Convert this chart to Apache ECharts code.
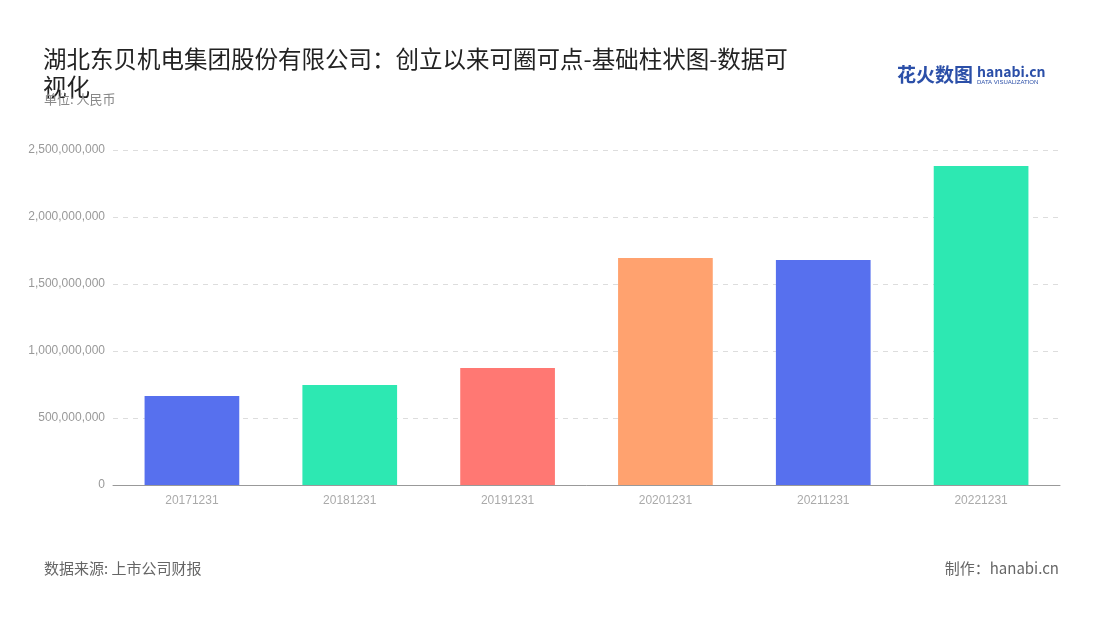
<!DOCTYPE html>
<html><head><meta charset="utf-8">
<script src="https://cdn.jsdelivr.net/npm/echarts@6/dist/echarts.min.js"></script>
<style>html,body{margin:0;padding:0;background:#fff}#c{width:1100px;height:620px}</style>
</head><body><div id="c"></div>
<script>
const categories = ['20171231','20181231','20191231','20201231','20211231','20221231'];
const values = [664000000, 746000000, 873000000, 1694000000, 1679000000, 2381000000];
const colors = ['#5770EE','#2DE8B2','#FF7873','#FFA26F','#5770EE','#2DE8B2'];
const yTicks = [0, 500000000, 1000000000, 1500000000, 2000000000, 2500000000];
const ff = '"Noto Sans CJK SC","Noto Sans",sans-serif';
const chart = echarts.init(document.getElementById('c'));
chart.setOption({
  animation:false,
  title:[
    {text:'湖北东贝机电集团股份有限公司：创立以来可圈可点-基础柱状图-数据可\n视化',left:38,top:40,textStyle:{fontFamily:ff,fontSize:23.5,fontWeight:'normal',color:'#222',lineHeight:28}},
    {text:'单位: 人民币',left:39,top:88,textStyle:{fontFamily:ff,fontSize:13,fontWeight:'normal',color:'#888'}},
    {text:'数据来源: 上市公司财报',left:39,top:556,textStyle:{fontFamily:ff,fontSize:15,fontWeight:'normal',color:'#666'}},
    {text:'制作：hanabi.cn',right:36,top:556,textStyle:{fontFamily:ff,fontSize:15,fontWeight:'normal',color:'#666'}},
    {text:'花火数图',left:892,top:60,textStyle:{fontFamily:ff,fontSize:19,fontWeight:'bold',color:'#2b4fa8'}},
    {text:'hanabi.cn',left:972,top:60,subtext:'DATA VISUALIZATION',itemGap:0,textStyle:{fontFamily:ff,fontSize:14,fontWeight:'bold',color:'#2b4fa8'},subtextStyle:{fontSize:6,color:'#2b4fa8'}}
  ],
  grid:{left:113,right:40,top:150,bottom:135},
  xAxis:{type:'category',data:categories,axisLine:{lineStyle:{color:'#999'}},axisTick:{show:false},
    axisLabel:{color:'#aaa',fontSize:12,margin:10}},
  yAxis:{type:'value',min:0,max:yTicks[yTicks.length-1],interval:yTicks[1]-yTicks[0],
    axisLabel:{color:'#999',fontSize:12,formatter:v=>v.toLocaleString('en-US')},
    splitLine:{lineStyle:{type:[5,5],color:'#ddd'}},axisLine:{show:false},axisTick:{show:false}},
  series:[{type:'bar',barWidth:'60%',data:values.map((v,i)=>({value:v,itemStyle:{color:colors[i]}}))}]
});
</script></body></html>
